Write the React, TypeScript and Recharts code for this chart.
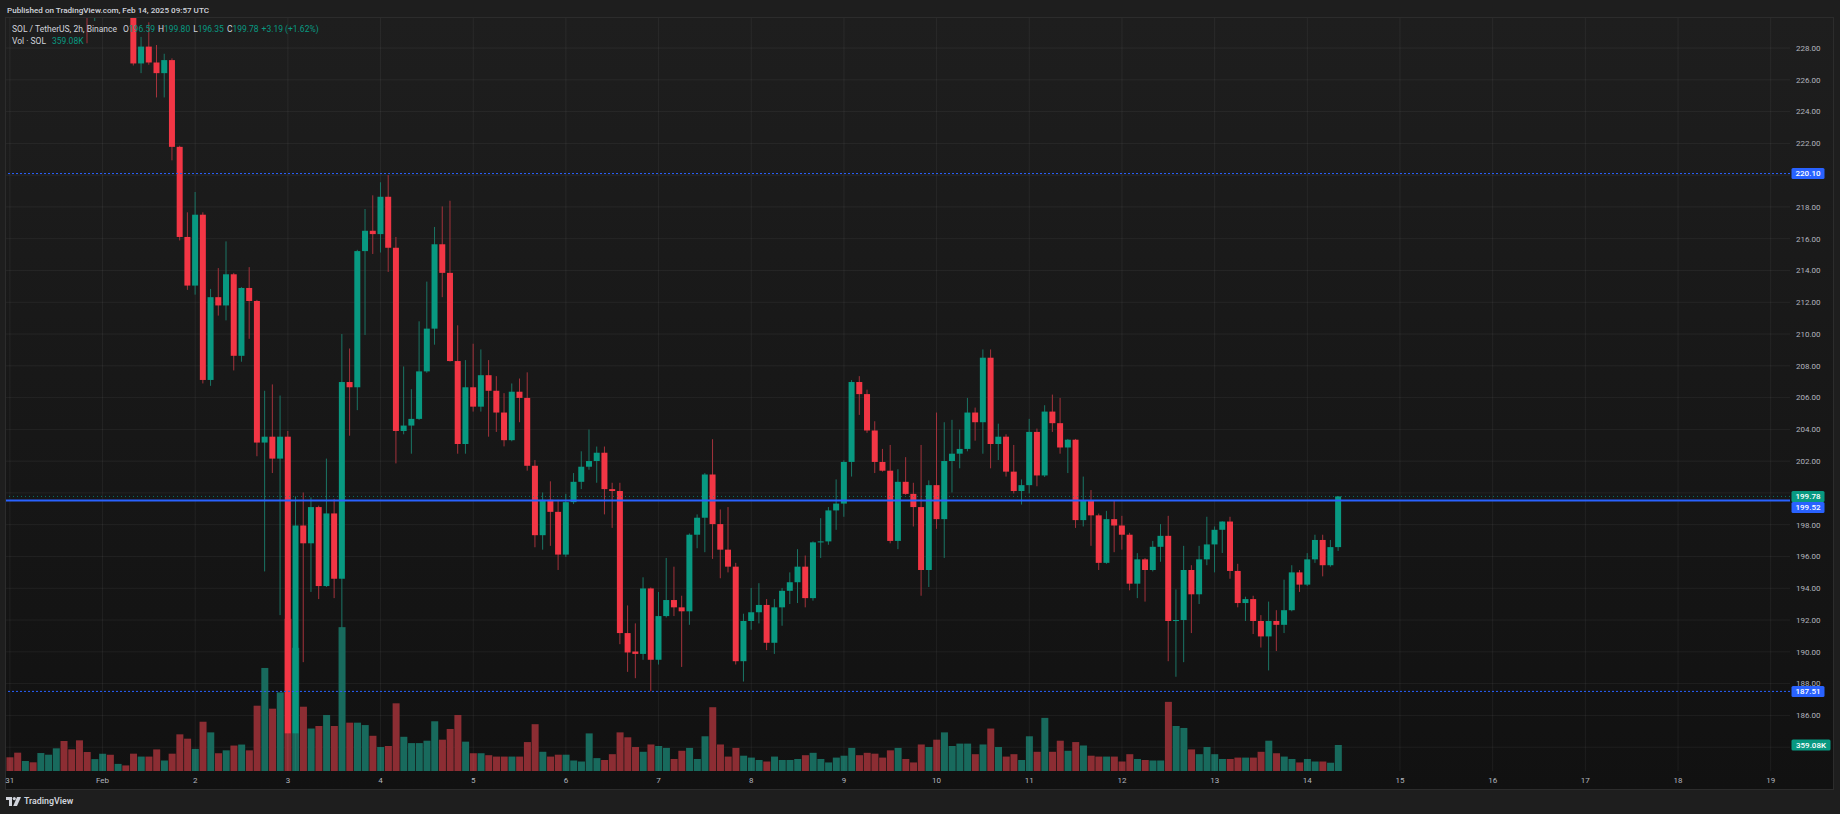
import React from "react";
import { ComposedChart, Bar, XAxis, YAxis, CartesianGrid, ReferenceLine } from "recharts";

// SOL / TetherUS, 2h candles, Binance — Jan 31 00:00 UTC .. Feb 14 08:00 UTC
const dayLabels = ["31", "Feb", "2", "3", "4", "5", "6", "7", "8", "9", "10", "11", "12", "13", "14", "15", "16", "17", "18", "19"];

// one row per day (12 candles)
const opens = [
  240.5, 239.2, 237.0, 238.4, 237.6, 238.9, 240.1, 241.3, 239.0, 237.1, 234.2, 231.6,
  232.4, 233.5, 232.6, 233.1, 232.2, 227.03, 228.09, 227.09, 226.42, 227.24, 221.78, 216.11,
  213.05, 217.51, 207.11, 212.32, 211.8, 213.76, 208.63, 212.9, 212.08, 203.17, 203.54, 202.16,
  203.54, 184.87, 197.95, 196.83, 199.11, 194.14, 198.71, 194.6, 206.98, 206.65, 215.22, 216.5,
  216.29, 218.64, 215.43, 203.9, 204.24, 204.66, 207.65, 210.34, 215.65, 213.85, 208.3, 203.08,
  206.65, 205.43, 207.41, 206.43, 205.06, 203.32, 206.37, 205.98, 201.71, 197.34, 199.57, 198.81,
  196.12, 199.42, 200.7, 201.65, 202.01, 202.53, 200.24, 200.12, 191.18, 190.02, 189.87, 193.99,
  189.5, 192.25, 193.26, 192.8, 192.55, 197.37, 198.44, 201.16, 198.04, 196.43, 195.36, 189.41,
  191.94, 192.49, 192.95, 190.57, 192.8, 193.84, 194.38, 195.36, 193.38, 196.89, 196.95, 198.9,
  199.33, 201.95, 206.98, 206.22, 203.93, 201.95, 201.4, 196.98, 200.7, 199.94, 199.11, 195.15,
  200.49, 198.35, 202.01, 202.47, 202.77, 205.06, 204.45, 208.51, 203.08, 203.54, 201.34, 200.12,
  200.49, 203.84, 201.1, 205.12, 204.39, 202.86, 203.35, 198.29, 199.51, 198.59, 195.6, 198.35,
  197.95, 197.37, 194.29, 195.82, 195.15, 196.61, 197.3, 191.94, 192.0, 195.15, 193.62, 195.82,
  196.76, 197.68, 198.2, 195.09, 193.07, 193.32, 191.94, 190.97, 191.94, 191.7, 192.62, 195.0,
  194.23, 195.82, 197.04, 195.45, 196.59,
];

const highs = [
  241.8, 239.9, 239.1, 239.0, 239.6, 240.8, 242.2, 241.6, 239.4, 237.6, 234.9, 233.2,
  234.1, 234.0, 233.8, 233.6, 232.6, 228.7, 229.62, 228.19, 227.64, 227.35, 221.85, 217.66,
  218.94, 217.66, 212.84, 214.15, 215.83, 213.85, 212.95, 214.21, 212.15, 206.43, 206.83, 206.13,
  203.9, 199.78, 200.03, 199.72, 199.2, 202.16, 199.63, 210.0, 209.09, 215.3, 217.87, 218.73,
  219.55, 220.01, 216.11, 207.96, 206.53, 210.8, 213.3, 216.74, 218.03, 218.39, 210.55, 208.36,
  209.39, 209.03, 208.36, 207.35, 206.28, 206.89, 207.2, 207.59, 202.07, 200.03, 200.73, 199.57,
  199.94, 201.25, 202.62, 203.99, 202.92, 202.92, 200.64, 200.64, 192.92, 191.79, 194.69, 194.05,
  193.77, 195.91, 195.36, 193.53, 197.45, 198.65, 201.25, 203.38, 198.96, 199.11, 195.6, 192.4,
  194.02, 194.32, 193.32, 193.32, 194.02, 195.0, 196.46, 196.06, 196.95, 198.41, 199.11, 200.85,
  202.05, 207.1, 207.35, 206.5, 204.51, 202.77, 203.02, 201.49, 202.25, 200.64, 203.02, 200.79,
  205.06, 204.45, 204.6, 203.99, 205.98, 205.37, 209.03, 209.03, 204.36, 203.69, 203.02, 200.85,
  204.66, 204.05, 205.52, 206.19, 205.98, 203.4, 203.4, 201.03, 200.18, 198.7, 198.87, 199.51,
  198.56, 197.49, 196.21, 195.9, 196.98, 198.04, 198.56, 193.93, 196.67, 195.45, 196.67, 198.5,
  197.89, 198.22, 198.5, 195.54, 193.47, 193.53, 192.31, 193.16, 192.62, 194.54, 195.45, 195.15,
  196.21, 197.37, 197.37, 197.04, 199.8,
];

const lows = [
  238.6, 236.3, 236.2, 236.9, 237.1, 238.3, 239.6, 238.4, 236.5, 233.4, 228.3, 229.7,
  231.4, 231.8, 232.0, 231.0, 226.9, 226.42, 226.95, 224.89, 224.89, 220.93, 215.89, 212.78,
  212.48, 206.89, 206.74, 211.16, 210.86, 207.71, 208.26, 209.7, 202.31, 195.06, 201.25, 192.31,
  180.5, 181.0, 189.35, 193.77, 193.32, 194.08, 193.38, 191.5, 203.6, 205.21, 209.94, 215.04,
  215.13, 213.91, 201.86, 203.69, 202.47, 204.6, 207.56, 209.33, 212.32, 208.27, 202.47, 202.47,
  205.12, 205.12, 203.54, 203.84, 202.93, 203.25, 204.45, 201.4, 196.58, 196.43, 196.67, 195.15,
  195.97, 199.3, 200.24, 201.46, 200.64, 198.65, 197.8, 190.48, 188.74, 188.34, 189.5, 187.52,
  189.2, 192.16, 192.25, 189.05, 191.7, 196.52, 196.27, 195.85, 194.63, 195.0, 189.2, 188.13,
  191.39, 191.79, 190.11, 189.87, 191.64, 193.01, 193.07, 192.8, 193.22, 195.91, 196.74, 197.68,
  198.5, 201.03, 204.91, 203.78, 201.25, 201.34, 196.83, 196.46, 199.88, 197.89, 193.53, 194.08,
  197.74, 195.91, 200.03, 201.55, 202.62, 203.29, 202.47, 201.55, 202.07, 201.03, 199.97, 199.27,
  199.97, 200.42, 201.0, 203.84, 202.47, 201.25, 197.8, 197.89, 196.67, 195.15, 195.54, 196.27,
  196.43, 193.87, 193.38, 193.16, 195.06, 195.67, 189.41, 188.43, 189.35, 191.18, 193.01, 195.45,
  195.0, 196.22, 194.6, 192.8, 191.94, 191.12, 190.27, 188.83, 190.05, 191.18, 192.55, 193.77,
  194.14, 195.6, 194.75, 195.36, 196.35,
];

const closes = [
  239.2, 237.0, 238.4, 237.6, 238.9, 240.1, 241.3, 239.0, 237.1, 234.2, 231.6, 232.4,
  233.5, 232.6, 233.1, 232.2, 227.03, 228.09, 227.09, 226.42, 227.24, 221.78, 216.11, 213.05,
  217.51, 207.11, 212.32, 211.8, 213.76, 208.63, 212.9, 212.08, 203.17, 203.54, 202.16, 203.54,
  184.87, 197.95, 196.83, 199.11, 194.14, 198.71, 194.6, 206.98, 206.65, 215.22, 216.5, 216.29,
  218.64, 215.43, 203.9, 204.24, 204.66, 207.65, 210.34, 215.65, 213.85, 208.3, 203.08, 206.65,
  205.43, 207.41, 206.43, 205.06, 203.32, 206.37, 205.98, 201.71, 197.34, 199.57, 198.81, 196.12,
  199.42, 200.7, 201.65, 202.01, 202.53, 200.24, 200.12, 191.18, 189.96, 189.87, 193.99, 189.5,
  192.25, 193.26, 192.8, 192.55, 197.37, 198.44, 201.16, 198.04, 196.43, 195.36, 189.41, 191.94,
  192.49, 192.95, 190.57, 192.8, 193.84, 194.38, 195.36, 193.38, 196.89, 196.95, 198.9, 199.33,
  201.95, 206.98, 206.22, 203.93, 201.95, 201.4, 196.98, 200.7, 199.94, 199.11, 195.15, 200.49,
  198.35, 202.01, 202.47, 202.77, 205.06, 204.45, 208.51, 203.08, 203.54, 201.34, 200.12, 200.49,
  203.84, 201.1, 205.12, 204.39, 202.86, 203.35, 198.29, 199.51, 198.59, 195.6, 198.35, 197.95,
  197.37, 194.29, 195.82, 195.15, 196.61, 197.3, 191.94, 192.0, 195.15, 193.62, 195.82, 196.76,
  197.68, 198.2, 195.09, 193.07, 193.32, 191.94, 190.97, 191.94, 191.7, 192.62, 195.0, 194.23,
  195.82, 197.04, 195.45, 196.59, 199.78,
];

// volume in thousands of SOL
const volumes = [
  189, 253, 138, 120, 248, 225, 313, 414, 299, 423, 262, 164,
  238, 224, 98, 77, 239, 199, 199, 298, 145, 239, 506, 446,
  305, 680, 533, 245, 285, 351, 365, 285, 901, 1422, 860, 1085,
  2100, 1700, 887, 586, 621, 773, 621, 1985, 667, 667, 634, 486,
  331, 345, 934, 472, 385, 385, 418, 686, 432, 580, 773, 405,
  245, 245, 218, 199, 199, 199, 199, 399, 646, 265, 199, 225,
  225, 145, 131, 519, 178, 152, 232, 533, 465, 331, 265, 366,
  345, 319, 166, 279, 319, 166, 479, 880, 366, 199, 319, 211,
  185, 152, 131, 199, 152, 152, 166, 218, 251, 166, 118, 185,
  211, 319, 218, 251, 239, 185, 285, 319, 166, 118, 366, 331,
  432, 533, 345, 378, 378, 232, 366, 586, 331, 199, 232, 152,
  479, 265, 733, 265, 418, 279, 399, 352, 211, 199, 199, 199,
  131, 232, 166, 152, 145, 145, 954, 621, 594, 298, 232, 331,
  232, 166, 166, 185, 185, 185, 265, 418, 245, 199, 166, 118,
  166, 131, 131, 114, 359.08,
];

const priceTicks = [184, 186, 188, 190, 192, 194, 196, 198, 200, 202, 204, 206, 208, 210, 212, 214, 216, 218, 220, 222, 224, 226, 228];
const unlabeledTicks = [184, 200, 220];
const dottedLevels = [220.1, 187.51];
const markedLevel = 199.52;

const FONT = "Roboto, 'Open Sans', sans-serif";
const UP = "#089981";
const DOWN = "#f23645";
const UP_WICK = "#1a7565";
const DOWN_WICK = "#a3323b";
const UP_VOL = "#186a5d";
const DOWN_VOL = "#8c2d33";
const GRID = "rgba(255,255,255,0.055)";
const TEXT = "#b2b5be";
const BLUE = "#2962ff";

const W = 1840;
const H = 814;
const SLOTS = 231; // visible bar slots, including empty future space up to Feb 19
const PRICE_DOMAIN: [number, number] = [182.5, 229.89];
const VOL_DOMAIN: [number, number] = [0, 10390];

const rows = Array.from({ length: SLOTS }, (_, i) => {
  if (i >= opens.length) return { i };
  return {
    i,
    open: opens[i],
    high: highs[i],
    low: lows[i],
    close: closes[i],
    range: [lows[i], highs[i]],
    volume: volumes[i],
    up: closes[i] >= opens[i],
  };
});

const dayStarts = dayLabels.map((_, d) => d * 12);

const last = opens.length - 1;
const lastChange = closes[last] - closes[last - 1];
const lastPct = (lastChange / closes[last - 1]) * 100;
const fmtK = (v: number) => `${v.toFixed(2)}K`;
const sign = (v: number) => (v >= 0 ? "+" : "");

function Candle(props: any) {
  const { x, y, width, height, payload } = props;
  if (!payload || payload.open == null) return <g />;
  const { open, close, high, low, up } = payload;
  const yHigh = y;
  const yLow = y + height;
  const at = (v: number) => (high === low ? yHigh : yHigh + ((high - v) / (high - low)) * (yLow - yHigh));
  const top = Math.min(at(open), at(close));
  const bottom = Math.max(at(open), at(close));
  const cx = x + width / 2;
  return (
    <g>
      <line x1={cx} x2={cx} y1={at(high)} y2={at(low)} stroke={up ? UP_WICK : DOWN_WICK} strokeWidth={1} />
      <rect x={x} y={top} width={width} height={Math.max(1, bottom - top)} fill={up ? UP : DOWN} />
    </g>
  );
}

function VolumeBar(props: any) {
  const { x, y, width, height, payload } = props;
  if (!payload || payload.volume == null) return <g />;
  return <rect x={x} y={y} width={width} height={Math.max(0, height)} fill={payload.up ? UP_VOL : DOWN_VOL} />;
}

function PriceTick(props: any) {
  const { x, y, payload } = props;
  if (unlabeledTicks.includes(payload.value)) return <g />;
  return (
    <text x={x} y={y} dy="0.35em" textAnchor="start" fill={TEXT} fontSize={8} fontFamily={FONT}>
      {Number(payload.value).toFixed(2)}
    </text>
  );
}

function ScaleTag(props: any) {
  const { viewBox, text, fill, w = 33, dy = 0 } = props;
  if (!viewBox) return <g />;
  const x = viewBox.x + viewBox.width + 1.5;
  const cy = viewBox.y + dy;
  return (
    <g>
      <rect x={x} y={cy - 5.5} width={w} height={11} rx={1.5} fill={fill} />
      <text x={x + w / 2} y={cy} dy="0.35em" textAnchor="middle" fill="#ffffff" fontSize={8} fontWeight={500} fontFamily={FONT}>
        {text}
      </text>
    </g>
  );
}

function Logo() {
  return (
    <svg width="15" height="9" viewBox="0 0 15 9" style={{ marginRight: 3 }}>
      <path d="M0 0h6v9H3V3H0z" fill="#d1d4dc" />
      <circle cx="8.3" cy="1.6" r="1.6" fill="#d1d4dc" />
      <path d="M11 0h4l-4 9H7.2z" fill="#d1d4dc" />
    </svg>
  );
}

export default function App() {
  const legendItem = { marginLeft: 3 };
  return (
    <div style={{ position: "relative", width: W, height: H, background: "#1e1e1e", overflow: "hidden", fontFamily: FONT }}>
      <style>{"body{margin:0;background:#1e1e1e}"}</style>

      <div style={{ position: "absolute", left: 7, top: 4, fontSize: 8.1, lineHeight: "12px", fontWeight: 500, color: "#d1d4dc" }}>
        Published on TradingView.com, Feb 14, 2025 09:57 UTC
      </div>

      {/* chart pane */}
      <div
        style={{
          position: "absolute",
          left: 5,
          top: 17,
          width: 1829,
          height: 773,
          boxSizing: "border-box",
          border: "1px solid #2c2c2c",
          background: "linear-gradient(#1e1e1e, #111111)",
        }}
      />

      {/* volume layer with grid */}
      <div style={{ position: "absolute", left: 0, top: 0 }}>
        <ComposedChart width={W} height={H} data={rows} margin={{ top: 18, right: 50, bottom: 43, left: 6 }} barCategoryGap="6%">
          <XAxis dataKey="i" hide />
          <YAxis yAxisId="vol" hide domain={VOL_DOMAIN} allowDataOverflow />
          <YAxis yAxisId="price" hide domain={PRICE_DOMAIN} allowDataOverflow ticks={priceTicks} />
          <CartesianGrid yAxisId="price" vertical={false} horizontalValues={priceTicks} stroke={GRID} />
          {dayStarts.map((d) => (
            <ReferenceLine key={d} x={d} yAxisId="vol" position="middle" stroke={GRID} />
          ))}
          <Bar yAxisId="vol" dataKey="volume" shape={<VolumeBar />} isAnimationActive={false} />
          <ReferenceLine
            yAxisId="vol"
            y={volumes[last]}
            stroke="none"
            label={<ScaleTag text={fmtK(volumes[last])} fill={UP} w={39} />}
          />
        </ComposedChart>
      </div>

      {/* price layer */}
      <div style={{ position: "absolute", left: 0, top: 0 }}>
        <ComposedChart width={W} height={H} data={rows} margin={{ top: 18, right: 7, bottom: 25, left: 6 }} barCategoryGap="10%">
          <XAxis
            dataKey="i"
            height={18}
            interval={11}
            axisLine={false}
            tickLine={false}
            tickSize={6}
            tickMargin={0}
            tick={{ fill: TEXT, fontSize: 8, fontFamily: FONT }}
            tickFormatter={(v: number) => (v % 12 === 0 ? dayLabels[v / 12] ?? "" : "")}
          />
          <YAxis
            yAxisId="price"
            orientation="right"
            width={43}
            domain={PRICE_DOMAIN}
            allowDataOverflow
            ticks={priceTicks}
            interval={0}
            axisLine={false}
            tickLine={false}
            tickSize={6}
            tickMargin={0}
            tick={<PriceTick />}
          />
          {dottedLevels.map((lv) => (
            <ReferenceLine
              key={lv}
              yAxisId="price"
              y={lv}
              stroke={BLUE}
              strokeDasharray="2 2"
              label={<ScaleTag text={lv.toFixed(2)} fill={BLUE} />}
            />
          ))}
          <Bar yAxisId="price" dataKey="range" shape={<Candle />} isAnimationActive={false} />
          <ReferenceLine
            yAxisId="price"
            y={closes[last]}
            stroke={UP}
            strokeOpacity={0.7}
            strokeDasharray="1 3"
            label={<ScaleTag text={closes[last].toFixed(2)} fill={UP} />}
          />
          <ReferenceLine
            yAxisId="price"
            y={markedLevel}
            stroke={BLUE}
            strokeWidth={2}
            label={<ScaleTag text={markedLevel.toFixed(2)} fill={BLUE} dy={7} />}
          />
        </ComposedChart>
      </div>

      {/* legend */}
      <div style={{ position: "absolute", left: 12, top: 23, fontSize: 8.5, lineHeight: "12px", color: "#d1d4dc", whiteSpace: "nowrap" }}>
        <span>SOL / TetherUS, 2h, Binance</span>
        <span style={{ marginLeft: 6 }}>O</span>
        <span style={{ color: UP }}>{opens[last].toFixed(2)}</span>
        <span style={legendItem}>H</span>
        <span style={{ color: UP }}>{highs[last].toFixed(2)}</span>
        <span style={legendItem}>L</span>
        <span style={{ color: UP }}>{lows[last].toFixed(2)}</span>
        <span style={legendItem}>C</span>
        <span style={{ color: UP }}>{closes[last].toFixed(2)}</span>
        <span style={{ ...legendItem, color: UP }}>
          {`${sign(lastChange)}${lastChange.toFixed(2)} (${sign(lastPct)}${lastPct.toFixed(2)}%)`}
        </span>
      </div>
      <div style={{ position: "absolute", left: 12, top: 35, fontSize: 8.5, lineHeight: "12px", color: "#d1d4dc", whiteSpace: "nowrap" }}>
        <span>Vol · SOL</span>
        <span style={{ marginLeft: 6, color: UP }}>{fmtK(volumes[last])}</span>
      </div>

      {/* footer */}
      <div
        style={{
          position: "absolute",
          left: 6,
          top: 795,
          display: "flex",
          alignItems: "center",
          fontSize: 8.8,
          lineHeight: "12px",
          fontWeight: 600,
          color: "#d1d4dc",
        }}
      >
        <Logo />
        TradingView
      </div>
    </div>
  );
}
